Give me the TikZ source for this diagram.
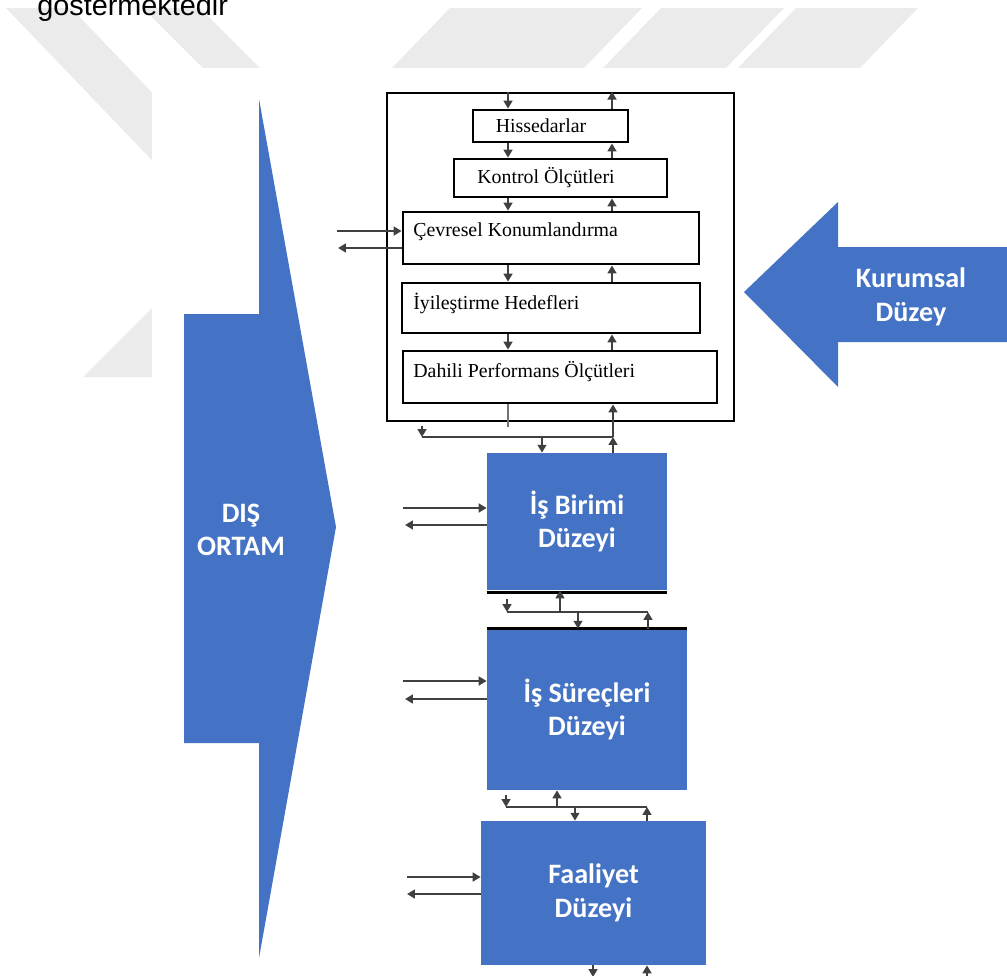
\documentclass[tikz,border=0pt]{standalone}
\usepackage{fontspec}
\usetikzlibrary{arrows.meta}
\newfontfamily\calfont{Carlito}
\newfontfamily\serfont{Liberation Serif}
\newfontfamily\arfont{Liberation Sans}
\definecolor{oblue}{HTML}{4472C4}
\definecolor{wmgray}{HTML}{EBEBEB}
\newcommand\pxu{0.02cm}
\begin{document}
\begin{tikzpicture}[x=0.02cm,y=-0.02cm,
  ibox/.style={draw=black, line width=1.6pt, fill=white, inner sep=0pt},
  bbox/.style={fill=oblue, draw=none, inner sep=0pt, text=white, font=\calfont\bfseries\fontsize{16}{19}\selectfont, align=center},
  btext/.style={text=white, inner sep=0pt, font=\calfont\bfseries\fontsize{16}{19}\selectfont, align=center},
  itext/.style={font=\serfont\fontsize{11.3}{13}\selectfont, inner sep=0pt},
  flow/.style={draw=black!75, line width=1.1pt, -{Triangle[length=4.5pt,width=5pt]}},
  plain/.style={draw=black!75, line width=1.1pt},
]
\useasboundingbox (0,0) rectangle (1007,975);
% watermark stripes
\fill[wmgray] (6,8) -- (71,8) -- (260,205) -- (195,205) -- cycle;
\fill[wmgray] (143,8) -- (200,8) -- (270,78) -- (213,78) -- cycle;
\fill[wmgray] (450,8) -- (642,8) -- (582,70) -- (390,70) -- cycle;
\fill[wmgray] (661,8) -- (784,8) -- (724,70) -- (601,70) -- cycle;
\fill[wmgray] (796,8) -- (918,8) -- (858,70) -- (736,70) -- cycle;
\fill[wmgray] (83,377) -- (250,210) -- (320,210) -- (152,377) -- cycle;
\fill[white] (152,68) rectangle (1010,980);
% caption fragment
\node[font=\arfont\fontsize{16.4}{18}\selectfont, anchor=base west, inner sep=0pt] (cap) at (37,15) {göstermektedir};
% big arrows
\fill[oblue] (184,314) -- (259,314) -- (259,99) -- (336,527) -- (259,958) -- (259,743) -- (184,743) -- cycle;
\node[btext] (dis) at (241,530) {DIŞ\\ORTAM};
\fill[oblue] (744,292) -- (838,202) -- (838,247) -- (1010,247) -- (1010,342) -- (838,342) -- (838,387) -- cycle;
\node[btext] (kur) at (911,297) {Kurumsal\\Düzey};
% outer box and inner boxes
\node[ibox, minimum width=347*\pxu, minimum height=328*\pxu] (outer) at (560.5,257) {};
\node[ibox, minimum width=155*\pxu, minimum height=32*\pxu] (hiss) at (550.5,126) {};
\node[ibox, minimum width=213*\pxu, minimum height=38*\pxu] (kon) at (560.5,178) {};
\node[ibox, minimum width=296*\pxu, minimum height=52*\pxu] (cev) at (551,238) {};
\node[ibox, minimum width=298*\pxu, minimum height=50*\pxu] (iyi) at (551,308) {};
\node[ibox, minimum width=314*\pxu, minimum height=52*\pxu] (dah) at (560,377) {};
\node[itext] (hissT) at (541,126) {Hissedarlar};
\node[itext] (konT) at (546,178) {Kontrol Ölçütleri};
\node[itext, anchor=west] (cevT) at (413,232) {Çevresel Konumlandırma};
\node[itext, anchor=west] (iyiT) at (413,303) {İyileştirme Hedefleri};
\node[itext, anchor=west] (dahT) at (413,372) {Dahili Performans Ölçütleri};
% blue level boxes
\node[bbox, minimum width=180*\pxu, minimum height=137*\pxu] (ib) at (577,521.5) {İş Birimi\\Düzeyi};
\node[bbox, minimum width=200*\pxu, minimum height=161*\pxu] (isur) at (587,709.5) {İş Süreçleri\\Düzeyi};
\node[bbox, minimum width=225*\pxu, minimum height=144*\pxu] (faa) at (593.5,893) {Faaliyet\\Düzeyi};
\draw[line width=1.4pt] ([yshift=-2*\pxu]ib.south west) -- ([yshift=-2*\pxu]ib.south east);
\draw[line width=1.6pt] (isur.north west) -- (isur.north east);
% vertical flows inside outer box
\draw[flow] (508,0 |- outer.north) -- (508,0 |- hiss.north);
\draw[flow] (612,0 |- hiss.north) -- (612,0 |- outer.north);
\draw[flow] (508,0 |- hiss.south) -- (508,0 |- kon.north);
\draw[flow] (612,0 |- kon.north) -- (612,0 |- hiss.south);
\draw[flow] (508,0 |- kon.south) -- (508,0 |- cev.north);
\draw[flow] (612,0 |- cev.north) -- (612,0 |- kon.south);
\draw[flow] (508,0 |- cev.south) -- (508,0 |- iyi.north);
\draw[flow] (612,0 |- iyi.north) -- (612,0 |- cev.south);
\draw[flow] (508,0 |- iyi.south) -- (508,0 |- dah.north);
\draw[flow] (612,0 |- dah.north) -- (612,0 |- iyi.south);
% link outer box - business unit
\coordinate (a1) at (422,437);
\coordinate (a2) at (613,437);
\coordinate (a0) at (422,426);
\coordinate (a3) at (508,427);
\draw[plain, draw=black!55, line width=0.6pt] (508,0 |- dah.south) -- (a3);
\draw[plain] (a1) -- (a2);
\draw[flow] (a0) -- (a1);
\draw[flow] (a2) -- (613,0 |- dah.south);
\draw[flow] (542,437) -- (542,0 |- ib.north);
\draw[flow] (613,0 |- ib.north) -- (a2);
% link business unit - processes
\coordinate (b1) at (507,612);
\coordinate (b2) at (648,612);
\coordinate (b0) at (507,599);
\draw[plain] (b1) -- (b2);
\draw[flow] (b0) -- (b1);
\draw[flow] (560,612) -- (560,0 |- ib.south);
\draw[flow] (578,612) -- (578,0 |- isur.north);
\draw[flow] (648,0 |- isur.north) -- (b2);
% link processes - activities
\coordinate (c1) at (506,807);
\coordinate (c2) at (647,807);
\coordinate (c0) at (506,795);
\draw[plain] (c1) -- (c2);
\draw[flow] (c0) -- (c1);
\draw[flow] (557,807) -- (557,0 |- isur.south);
\draw[flow] (575,807) -- (575,0 |- faa.north);
\draw[flow] (647,0 |- faa.north) -- (c2);
% below activities
\coordinate (d1) at (593,977);
\coordinate (d2) at (647,985);
\draw[flow] (593,0 |- faa.south) -- (d1);
\draw[flow] (d2) -- (647,0 |- faa.south);
% side flows
\coordinate (e1) at (337,231);
\coordinate (e2) at (338,248);
\draw[flow] (e1) -- (cev.west |- e1);
\draw[flow] (cev.west |- e2) -- (e2);
\coordinate (f1) at (403,508);
\coordinate (f2) at (405,525);
\draw[flow] (f1) -- (ib.west |- f1);
\draw[flow] (ib.west |- f2) -- (f2);
\coordinate (g1) at (403,681);
\coordinate (g2) at (405,699);
\draw[flow] (g1) -- (isur.west |- g1);
\draw[flow] (isur.west |- g2) -- (g2);
\coordinate (h1) at (407,877);
\coordinate (h2) at (407,894);
\draw[flow] (h1) -- (faa.west |- h1);
\draw[flow] (faa.west |- h2) -- (h2);
\end{tikzpicture}
\end{document}
